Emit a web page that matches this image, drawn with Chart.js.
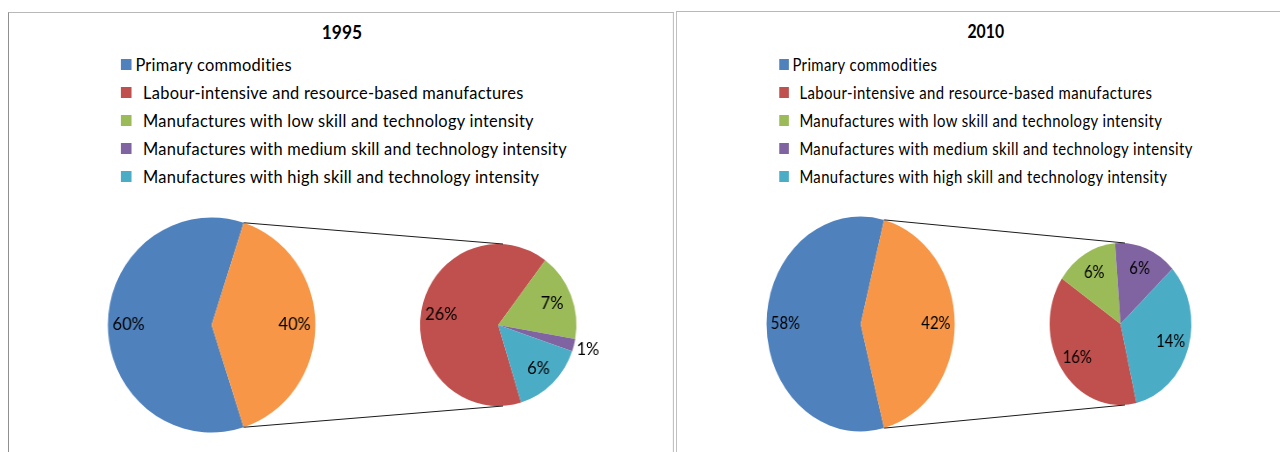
<!DOCTYPE html>
<html>
<head>
<meta charset="utf-8">
<title>Export structure 1995 / 2010</title>
<script src="https://cdn.jsdelivr.net/npm/chart.js@4.4.0/dist/chart.umd.min.js"></script>
<style>
  html, body { margin: 0; padding: 0; background: #fff; overflow: hidden; }
  body { width: 1280px; height: 452px; position: relative; font-family: Lato, 'Noto Sans', sans-serif; }
  .panel {
    position: absolute; box-sizing: border-box; height: 470px;
    border: 1px solid #b8b8b8; background: #fff; transform-origin: 0 0;
  }
  #panel1995 { left: 8px; top: 12px; width: 690px; transform: scaleX(0.965); border-left-color: #8c8c8c; }
  #panel2010 { left: 676px; top: 11px; width: 700px; transform: scaleX(0.875); }
  .title {
    position: absolute; left: 0; top: 7px; width: 690px; text-align: center;
    font-weight: bold; font-size: 18px; line-height: 24px; color: #000;
  }
  #panel2010 .title { left: 8px; }
  .legend {
    position: absolute; left: 116px; top: 37px; margin: 0; padding: 0; list-style: none;
    font-size: 17px; color: #000; letter-spacing: 0.27px;
  }
  #panel2010 .legend { left: 117px; top: 38px; letter-spacing: 0.46px; }
  .legend li { height: 28.15px; display: flex; align-items: center; white-space: nowrap; }
  .legend .sw { width: 11px; height: 11px; flex: none; margin-right: 12px; }
  .legend li:first-child .sw { margin-right: 4px; }
  .pies { position: absolute; left: 0; top: 194px; width: 690px; height: 256px; }
  .pies canvas { position: absolute; left: 0; top: 0; }
</style>
</head>
<body>
<div class="panel" id="panel1995">
  <div class="title">1995</div>
  <ul class="legend" id="legend1995"></ul>
  <div class="pies">
    <canvas id="big1995" width="690" height="256"></canvas>
    <canvas id="small1995" width="690" height="256"></canvas>
  </div>
</div>
<div class="panel" id="panel2010">
  <div class="title">2010</div>
  <ul class="legend" id="legend2010"></ul>
  <div class="pies">
    <canvas id="big2010" width="690" height="256"></canvas>
    <canvas id="small2010" width="690" height="256"></canvas>
  </div>
</div>
<script>
// share of exports by product group, %
const categories = [
  'Primary commodities',
  'Labour-intensive and resource-based manufactures',
  'Manufactures with low skill and technology intensity',
  'Manufactures with medium skill and technology intensity',
  'Manufactures with high skill and technology intensity',
];
const primary1995 = 60;
const manufactures1995 = [26, 7, 1, 6];
const primary2010 = 58;
const manufactures2010 = [16, 6, 6, 14];

const colors = ['#4f81bd', '#c0504d', '#9bbb59', '#8064a2', '#4bacc6'];
const otherColor = '#f79646';

// where the pies sit inside the .pies box
const BIG = { cx: 210, cy: 118, r: 107.5 };
const SMALL = { cx: 507, cy: 118, r: 81 };
const BOX = { w: 690, h: 256 };

function padFor(p) {
  return { left: p.cx - p.r, right: BOX.w - p.cx - p.r, top: p.cy - p.r, bottom: BOX.h - p.cy - p.r };
}

// percentage labels, inside the slice or just outside it for thin slices
const sliceLabels = {
  id: 'sliceLabels',
  afterDatasetsDraw(chart, args, opts) {
    const { ctx } = chart;
    const data = chart.data.datasets[0].data;
    const sum = data.reduce((a, b) => a + b, 0);
    ctx.save();
    ctx.font = '17px Lato, "Noto Sans", sans-serif';
    ctx.fillStyle = '#000';
    ctx.textAlign = 'center';
    ctx.textBaseline = 'middle';
    chart.getDatasetMeta(0).data.forEach((arc, i) => {
      const { x, y, startAngle, endAngle, outerRadius } = arc.getProps(['x', 'y', 'startAngle', 'endAngle', 'outerRadius'], true);
      const mid = (startAngle + endAngle) / 2;
      const d = data[i] / sum < 0.05 ? outerRadius + 15 : outerRadius * opts.inside;
      ctx.fillText(data[i] + '%', x + Math.cos(mid) * d, y + Math.sin(mid) * d);
    });
    ctx.restore();
  },
};

// lines joining the split wedge of the main pie to the second pie
const connectors = {
  id: 'connectors',
  afterDraw(chart, args, opts) {
    const big = opts.source.getDatasetMeta(0).data[1];
    const { x, y, startAngle, endAngle, outerRadius } = big.getProps(['x', 'y', 'startAngle', 'endAngle', 'outerRadius'], true);
    const small = chart.getDatasetMeta(0).data[0];
    const s = small.getProps(['x', 'y', 'outerRadius'], true);
    const { ctx } = chart;
    ctx.save();
    ctx.strokeStyle = '#1a1a1a';
    ctx.lineWidth = 1;
    ctx.beginPath();
    ctx.moveTo(x + Math.cos(startAngle) * outerRadius, y + Math.sin(startAngle) * outerRadius);
    ctx.lineTo(s.x + 5, s.y - s.outerRadius);
    ctx.moveTo(x + Math.cos(endAngle) * outerRadius, y + Math.sin(endAngle) * outerRadius);
    ctx.lineTo(s.x + 5, s.y + s.outerRadius);
    ctx.stroke();
    ctx.restore();
  },
};

function buildLegend(id) {
  const ul = document.getElementById(id);
  categories.forEach((name, i) => {
    const li = document.createElement('li');
    li.innerHTML = '<span class="sw" style="background:' + colors[i] + '"></span><span>' + name + '</span>';
    ul.appendChild(li);
  });
}

function pieOptions(pos, rotation, extra) {
  return {
    responsive: false,
    animation: false,
    rotation,
    layout: { padding: padFor(pos) },
    events: [],
    plugins: Object.assign({ legend: { display: false }, tooltip: { enabled: false } }, extra),
  };
}

function renderYear(year, primary, manufactures, smallRotation) {
  buildLegend('legend' + year);
  const other = manufactures.reduce((a, b) => a + b, 0);
  // the split wedge is centred on the right-hand side
  const bigRotation = 90 + (other / (primary + other)) * 180;

  const big = new Chart(document.getElementById('big' + year), {
    type: 'pie',
    data: {
      labels: [categories[0], 'Manufactures'],
      datasets: [{ data: [primary, other], backgroundColor: [colors[0], otherColor], borderWidth: 0 }],
    },
    options: pieOptions(BIG, bigRotation, { sliceLabels: { inside: 0.8 } }),
    plugins: [sliceLabels],
  });

  new Chart(document.getElementById('small' + year), {
    type: 'pie',
    data: {
      labels: categories.slice(1),
      datasets: [{ data: manufactures, backgroundColor: colors.slice(1), borderWidth: 0 }],
    },
    options: pieOptions(SMALL, smallRotation, { sliceLabels: { inside: 0.74 }, connectors: { source: big } }),
    plugins: [sliceLabels, connectors],
  });
}

renderYear('1995', primary1995, manufactures1995, 163);
renderYear('2010', primary2010, manufactures2010, 167);
</script>
</body>
</html>
